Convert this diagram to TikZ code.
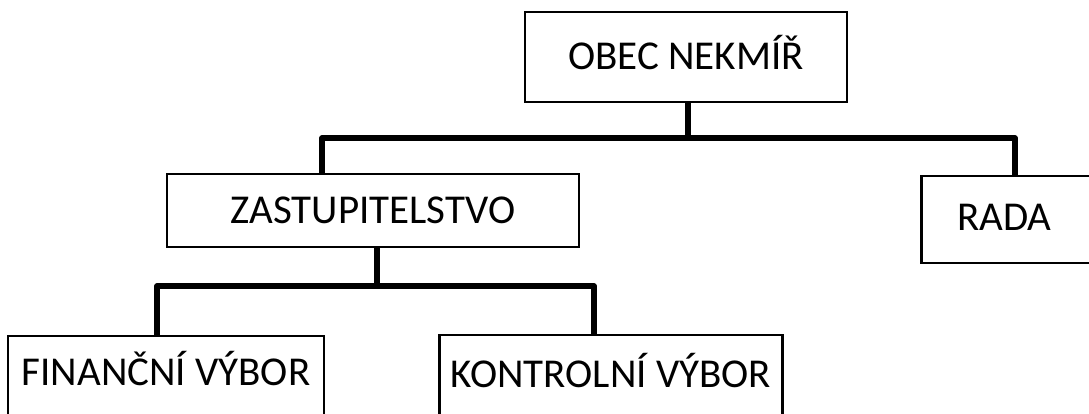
\documentclass[tikz,border=0pt]{standalone}
\usepackage{fontspec}
\setmainfont{Carlito}
\begin{document}
\begin{tikzpicture}[x=1pt,y=-1pt,
  box/.style={draw=black, line width=2.6pt, inner sep=0pt, font=\fontsize{41}{49}\selectfont},
  conn/.style={draw=black, line width=5.5pt, line join=round}]
\useasboundingbox (0,0) rectangle (1089,414);
% boxes
\node[box, minimum width=322, text height=58, text depth=32, anchor=base] (obec) at (686,70) {OBEC NEKMÍŘ};
\node[box, minimum width=412, text height=49, text depth=24, anchor=base] (zast) at (373,223) {ZASTUPITELSTVO};
\node[box, anchor=base west, inner xsep=36pt, inner ysep=0pt, text width=150, align=left, text height=54, text depth=33] (rada) at (920,230) {RADA};
\node[box, minimum width=316, text height=49, text depth=45, anchor=base] (fin) at (166,385) {FINANČNÍ VÝBOR};
\node[box, minimum width=343, text height=52, text depth=45, anchor=base] (kon) at (611,387) {KONTROLNÍ VÝBOR};
% bus coordinates
\coordinate (b1l) at (322,138);
\coordinate (b1r) at (1015,138);
\coordinate (b2l) at (157,286);
\coordinate (b2r) at (594,286);
% connectors
\draw[conn] (obec.south -| 688,0) -- (688,138);
\draw[conn] (zast.north -| b1l) -- (b1l) -- (b1r) -- (rada.north -| b1r);
\draw[conn] (zast.south -| 377,0) -- (377,286);
\draw[conn] (fin.north -| b2l) -- (b2l) -- (b2r) -- (kon.north -| b2r);
\end{tikzpicture}
\end{document}
